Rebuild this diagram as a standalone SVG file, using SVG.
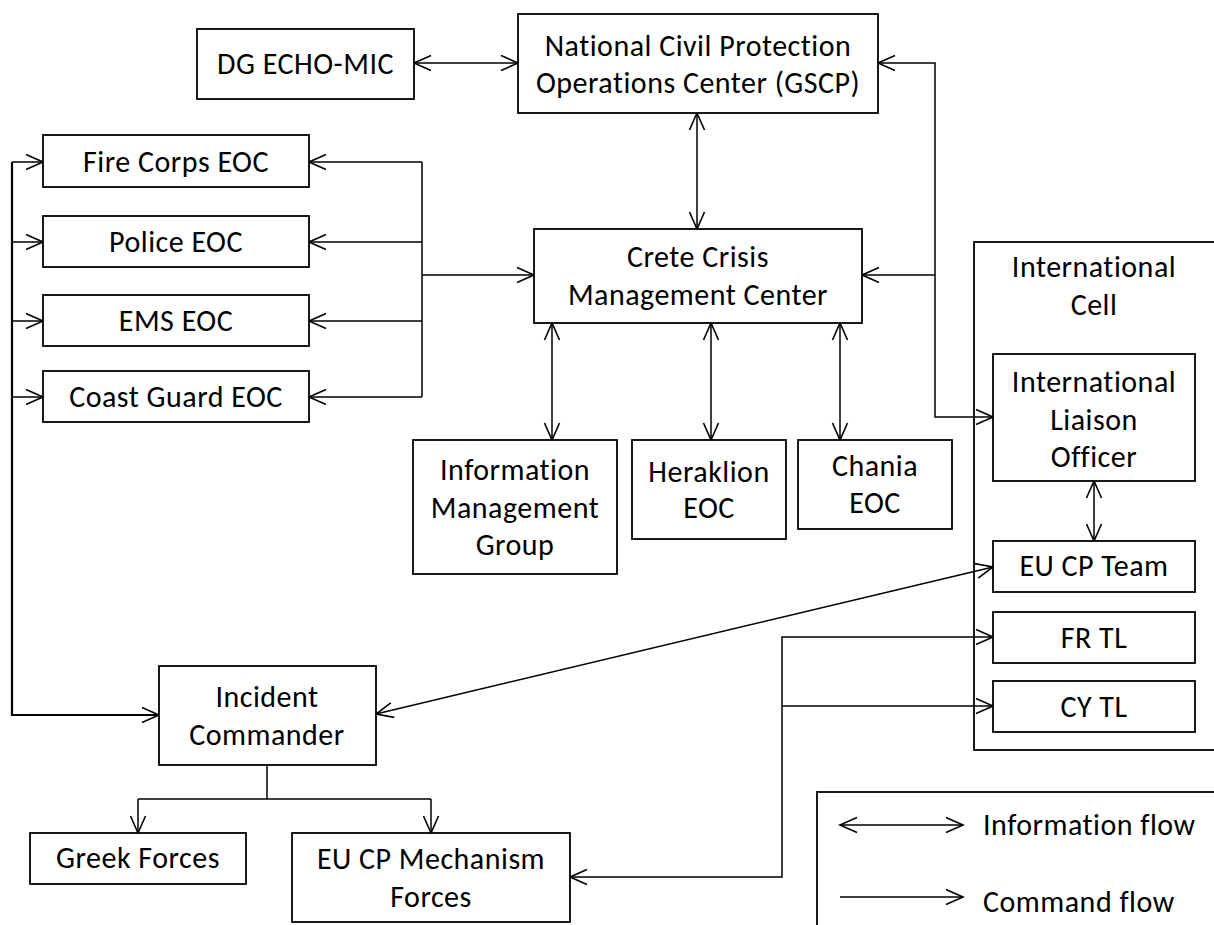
<svg xmlns="http://www.w3.org/2000/svg" width="1214" height="925" viewBox="0 0 1214 925">
<style>
.box{fill:#fff;stroke:#000;stroke-width:1.8}
.t{font-family:Calibri,Carlito,Lato,"Open Sans",sans-serif;font-size:30px;letter-spacing:0.5px;fill:#000;text-anchor:middle}
.lg{text-anchor:start}
.c{fill:none;stroke:#000;stroke-width:1.5}
.c2{fill:none;stroke:#000;stroke-width:2.2}
.a{marker-end:url(#ah)}
.aa{marker-start:url(#ah);marker-end:url(#ah)}
</style>
<defs>
<marker id="ah" viewBox="-19 -9 21 18" refX="0" refY="0" markerWidth="21" markerHeight="18" markerUnits="userSpaceOnUse" orient="auto-start-reverse">
<path d="M-17,-7.5 L0,0 L-17,7.5" fill="none" stroke="#000" stroke-width="1.6"/>
</marker>
</defs>
<rect width="1214" height="925" fill="#fff"/>

<g id="intl-cell">
<rect class="box" x="974" y="242" width="260" height="508"/>
<text class="t" x="1094" y="277">International</text>
<text class="t" x="1094" y="315">Cell</text>
</g>
<g id="legend">
<rect class="box" x="817" y="792" width="420" height="160"/>
<text class="t lg" x="983" y="835">Information flow</text>
<text class="t lg" x="983" y="912">Command flow</text>
</g>

<g id="connectors">
<path class="c aa" d="M414,63 H518"/>
<path class="c aa" d="M697,113 V229"/>
<path class="c aa" d="M878,63 H935 V417 H993"/>
<path class="c a" d="M935,275 H862"/>
<path class="c" d="M422,162 V397"/>
<path class="c a" d="M422,162 H309"/>
<path class="c a" d="M422,242 H309"/>
<path class="c a" d="M422,321 H309"/>
<path class="c a" d="M422,397 H309"/>
<path class="c a" d="M422,275 H534"/>
<path class="c2 a" d="M12,162 V715 H159"/>
<path class="c a" d="M12,162 H43"/>
<path class="c a" d="M12,242 H43"/>
<path class="c a" d="M12,321 H43"/>
<path class="c a" d="M12,397 H43"/>
<path class="c aa" d="M552,323 V440"/>
<path class="c aa" d="M711,323 V440"/>
<path class="c aa" d="M840,323 V440"/>
<path class="c aa" d="M1094,481 V541"/>
<path class="c aa" d="M376,714 L993,567"/>
<path class="c" d="M267,765 V799 M138,799 H431"/>
<path class="c a" d="M138,799 V833"/>
<path class="c a" d="M431,799 V833"/>
<path class="c aa" d="M993,637 H782 V877 H570"/>
<path class="c a" d="M782,706 H993"/>
<path class="c aa" d="M840,825 H963"/>
<path class="c a" d="M840,897 H963"/>
</g>

<g id="dg-echo">
<rect class="box" x="197" y="29" width="217" height="70"/>
<text class="t" x="305.5" y="74">DG ECHO-MIC</text>
</g>
<g id="gscp">
<rect class="box" x="518" y="14" width="360" height="99"/>
<text class="t" x="698" y="56">National Civil Protection</text>
<text class="t" x="698" y="93">Operations Center (GSCP)</text>
</g>
<g id="fire">
<rect class="box" x="43" y="135" width="266" height="52"/>
<text class="t" x="176" y="172">Fire Corps EOC</text>
</g>
<g id="police">
<rect class="box" x="43" y="216" width="266" height="51"/>
<text class="t" x="176" y="252">Police EOC</text>
</g>
<g id="ems">
<rect class="box" x="43" y="295" width="266" height="51"/>
<text class="t" x="176" y="331">EMS EOC</text>
</g>
<g id="coast">
<rect class="box" x="43" y="371" width="266" height="51"/>
<text class="t" x="176" y="407">Coast Guard EOC</text>
</g>
<g id="crete">
<rect class="box" x="534" y="229" width="328" height="94"/>
<text class="t" x="698" y="267">Crete Crisis</text>
<text class="t" x="698" y="305">Management Center</text>
</g>
<g id="img">
<rect class="box" x="413" y="440" width="204" height="134"/>
<text class="t" x="515" y="480">Information</text>
<text class="t" x="515" y="518">Management</text>
<text class="t" x="515" y="555">Group</text>
</g>
<g id="heraklion">
<rect class="box" x="632" y="440" width="154" height="99"/>
<text class="t" x="709" y="482">Heraklion</text>
<text class="t" x="709" y="518">EOC</text>
</g>
<g id="chania">
<rect class="box" x="798" y="440" width="154" height="89"/>
<text class="t" x="875" y="476">Chania</text>
<text class="t" x="875" y="513">EOC</text>
</g>
<g id="ilo">
<rect class="box" x="993" y="354" width="202" height="127"/>
<text class="t" x="1094" y="392">International</text>
<text class="t" x="1094" y="430">Liaison</text>
<text class="t" x="1094" y="467">Officer</text>
</g>
<g id="eucp-team">
<rect class="box" x="993" y="541" width="202" height="51"/>
<text class="t" x="1094" y="576">EU CP Team</text>
</g>
<g id="fr-tl">
<rect class="box" x="993" y="612" width="202" height="51"/>
<text class="t" x="1094" y="648">FR TL</text>
</g>
<g id="cy-tl">
<rect class="box" x="993" y="681" width="202" height="51"/>
<text class="t" x="1094" y="717">CY TL</text>
</g>
<g id="ic">
<rect class="box" x="159" y="666" width="217" height="99"/>
<text class="t" x="267" y="707">Incident</text>
<text class="t" x="267" y="745">Commander</text>
</g>
<g id="greek">
<rect class="box" x="30" y="833" width="216" height="51"/>
<text class="t" x="138" y="868">Greek Forces</text>
</g>
<g id="eucp-mech">
<rect class="box" x="292" y="833" width="278" height="89"/>
<text class="t" x="431" y="869">EU CP Mechanism</text>
<text class="t" x="431" y="907">Forces</text>
</g>
</svg>
